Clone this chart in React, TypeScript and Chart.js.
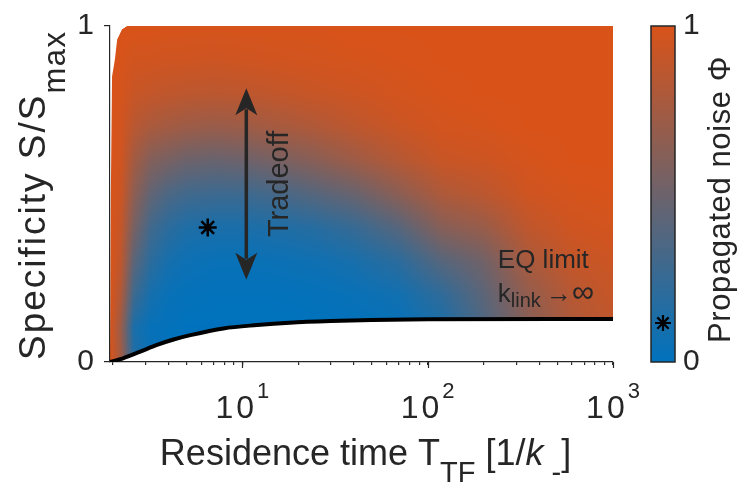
import React, { useEffect, useRef } from 'react';
import { Chart, registerables } from 'chart.js';

Chart.register(...registerables);

const FONT = '"Liberation Sans", Arial, Helvetica, sans-serif';
const TEXT = '#262626';

// ---- axes ----
const xMin = 1.93;
const xMax = 1000;
const xTickValues = [2, 3, 4, 5, 6, 7, 8, 9, 10, 20, 30, 40, 50, 60, 70, 80, 90, 100, 200, 300, 400, 500, 600, 700, 800, 900, 1000];
const xMajorTicks = [10, 100, 1000];
const xMajorExponents = ['1', '2', '3'];
const yTickValues = [0, 1];
const colorbarTickValues = [0, 1];

// ---- EQ-limit boundary (black curve) ----
const boundaryX = [1.93, 2.27, 2.81, 3.46, 4.25, 5.24, 7.9, 12, 18, 30, 50, 100, 1000];
const boundaryY = [0, 0.011, 0.031, 0.051, 0.067, 0.08, 0.1, 0.11, 0.117, 0.122, 0.125, 0.127, 0.128];

// ---- left edge of the feasible region ----
const edgeY = [0, 0.5, 0.85, 0.9, 0.96, 0.99, 1.0];
const edgeX = [1.93, 1.95, 1.98, 2.05, 2.11, 2.24, 2.39];

// ---- propagated noise Phi on a grid (columns = phiX, rows = phiY) ----
const phiX = [1.93, 2.2, 2.6, 3.2, 4, 5, 7, 10, 15, 25, 40, 70, 120, 200, 350, 600, 1000];
const phiY = [0, 0.1, 0.2, 0.3, 0.4, 0.5, 0.6, 0.7, 0.8, 0.9, 1.0];
const phiGrid = [
  [1, 1, 1, 1, 1, 1, 1, 1, 1, 1, 1],
  [0.75, 0.72, 0.82, 0.88, 0.91, 0.94, 0.96, 0.97, 0.98, 0.99, 1],
  [0.15, 0.12, 0.28, 0.42, 0.55, 0.65, 0.75, 0.85, 0.92, 0.96, 1],
  [0.04, 0.03, 0.1, 0.2, 0.3, 0.45, 0.6, 0.78, 0.9, 0.96, 1],
  [0.01, 0.01, 0.04, 0.1, 0.2, 0.35, 0.55, 0.75, 0.88, 0.95, 0.99],
  [0, 0, 0.02, 0.06, 0.14, 0.3, 0.5, 0.72, 0.87, 0.95, 0.99],
  [0, 0, 0.01, 0.04, 0.12, 0.28, 0.48, 0.7, 0.86, 0.94, 0.99],
  [0, 0, 0.01, 0.04, 0.12, 0.28, 0.5, 0.72, 0.87, 0.95, 0.99],
  [0, 0, 0.01, 0.05, 0.14, 0.32, 0.55, 0.76, 0.89, 0.96, 0.99],
  [0, 0, 0.02, 0.07, 0.18, 0.4, 0.63, 0.81, 0.92, 0.97, 0.99],
  [0, 0.01, 0.04, 0.11, 0.25, 0.48, 0.72, 0.87, 0.94, 0.98, 1],
  [0.02, 0.03, 0.08, 0.2, 0.4, 0.64, 0.83, 0.93, 0.97, 0.99, 1],
  [0.1, 0.12, 0.22, 0.4, 0.62, 0.8, 0.92, 0.97, 0.99, 1, 1],
  [0.33, 0.35, 0.42, 0.52, 0.7, 0.86, 0.94, 0.98, 1, 1, 1],
  [0.6, 0.62, 0.68, 0.78, 0.88, 0.95, 0.98, 1, 1, 1, 1],
  [0.78, 0.8, 0.84, 0.9, 0.95, 0.98, 1, 1, 1, 1, 1],
  [0.86, 0.88, 0.91, 0.94, 0.97, 0.99, 1, 1, 1, 1, 1],
];

// ---- marked operating point ----
const starX = [6.5];
const starY = [0.4];
const starPhi = 0.116;

// ---- tradeoff arrow ----
const tradeoffX = 10.5;
const tradeoffY = [0.245, 0.815];

// colormap end points (Phi = 0 -> blue, Phi = 1 -> orange)
const colorLow = [0, 114, 189];
const colorHigh = [217, 83, 25];

const logPhiX = phiX.map((v) => Math.log10(v));
const logBoundaryX = boundaryX.map((v) => Math.log10(v));

function interp1(xs: number[], ys: number[], v: number): number {
  const n = xs.length;
  if (v <= xs[0]) return ys[0];
  if (v >= xs[n - 1]) return ys[n - 1];
  for (let i = 0; i < n - 1; i++) {
    if (v <= xs[i + 1]) {
      const t = (v - xs[i]) / (xs[i + 1] - xs[i]);
      return ys[i] + t * (ys[i + 1] - ys[i]);
    }
  }
  return ys[n - 1];
}

function seg(xs: number[], v: number): [number, number] {
  const n = xs.length;
  if (v <= xs[0]) return [0, 0];
  if (v >= xs[n - 1]) return [n - 2, 1];
  for (let i = 0; i < n - 1; i++) {
    if (v <= xs[i + 1]) return [i, (v - xs[i]) / (xs[i + 1] - xs[i])];
  }
  return [n - 2, 1];
}

function phiAt(lx: number, yv: number): number {
  const [i, tx] = seg(logPhiX, lx);
  const [j, ty] = seg(phiY, yv);
  const v00 = phiGrid[i][j];
  const v10 = phiGrid[i + 1][j];
  const v01 = phiGrid[i][j + 1];
  const v11 = phiGrid[i + 1][j + 1];
  const a = v00 + (v10 - v00) * tx;
  const b = v01 + (v11 - v01) * tx;
  return a + (b - a) * ty;
}

function cmap(p: number): number[] {
  const t = Math.max(0, Math.min(1, p));
  return [0, 1, 2].map((k) => colorLow[k] + (colorHigh[k] - colorLow[k]) * t);
}

function drawAsterisk(ctx: CanvasRenderingContext2D, x: number, y: number, r: number, lw: number) {
  ctx.save();
  ctx.strokeStyle = '#000';
  ctx.lineWidth = lw;
  ctx.beginPath();
  for (let k = 0; k < 4; k++) {
    const a = (k * Math.PI) / 4;
    ctx.moveTo(x - r * Math.cos(a), y - r * Math.sin(a));
    ctx.lineTo(x + r * Math.cos(a), y + r * Math.sin(a));
  }
  ctx.stroke();
  ctx.restore();
}

type Run = { t: string; s: number; dy?: number; italic?: boolean; ls?: number };

function setRunFont(ctx: CanvasRenderingContext2D, r: Run) {
  ctx.font = `${r.italic ? 'italic ' : ''}${r.s}px ${FONT}`;
  (ctx as any).letterSpacing = `${r.ls || 0}px`;
}

function runsWidth(ctx: CanvasRenderingContext2D, runs: Run[]) {
  let w = 0;
  for (const r of runs) {
    setRunFont(ctx, r);
    w += ctx.measureText(r.t).width;
  }
  (ctx as any).letterSpacing = '0px';
  return w;
}

function drawRuns(ctx: CanvasRenderingContext2D, runs: Run[], x0: number, baseline: number) {
  let x = x0;
  ctx.textAlign = 'left';
  ctx.textBaseline = 'alphabetic';
  for (const r of runs) {
    setRunFont(ctx, r);
    ctx.fillText(r.t, x, baseline + (r.dy || 0));
    x += ctx.measureText(r.t).width;
  }
  (ctx as any).letterSpacing = '0px';
}

const heatPlugin = {
  id: 'heatmap',
  beforeDraw(chart: any) {
    const { ctx, chartArea: ca, scales } = chart;
    const xs = scales.x;
    const ys = scales.y;
    const w = Math.round(ca.right - ca.left);
    const h = Math.round(ca.bottom - ca.top);
    const off = document.createElement('canvas');
    off.width = w;
    off.height = h;
    const octx = off.getContext('2d')!;
    const img = octx.createImageData(w, h);
    for (let i = 0; i < w; i++) {
      const px = ca.left + i + 0.5;
      const xv = xs.getValueForPixel(px);
      const lx = Math.log10(xv);
      const lb = interp1(logBoundaryX, boundaryY, lx);
      const lbPix = ys.getPixelForValue(lb);
      for (let j = 0; j < h; j++) {
        const py = ca.top + j + 0.5;
        const c1 = Math.max(0, Math.min(1, lbPix - py + 0.5));
        if (c1 <= 0) continue;
        const yv = ys.getValueForPixel(py);
        const xe = interp1(edgeY, edgeX, yv);
        const xePix = xs.getPixelForValue(xe);
        const c2 = Math.max(0, Math.min(1, px - xePix + 0.5));
        if (c2 <= 0) continue;
        const col = cmap(phiAt(lx, yv));
        const o = (j * w + i) * 4;
        img.data[o] = col[0];
        img.data[o + 1] = col[1];
        img.data[o + 2] = col[2];
        img.data[o + 3] = Math.round(255 * Math.min(c1, c2));
      }
    }
    octx.putImageData(img, 0, 0);
    ctx.drawImage(off, ca.left, ca.top);
  },
};

const decorPlugin = {
  id: 'decor',
  afterDraw(chart: any) {
    const { ctx, chartArea: ca, scales } = chart;
    const xs = scales.x;
    const ys = scales.y;
    const cb = scales.cb;
    ctx.save();
    ctx.fillStyle = TEXT;
    ctx.strokeStyle = TEXT;

    // major tick extension
    ctx.lineWidth = 1.2;
    xMajorTicks.forEach((v) => {
      const px = Math.round(xs.getPixelForValue(v)) + 0.5;
      ctx.beginPath();
      ctx.moveTo(px, ca.bottom);
      ctx.lineTo(px, ca.bottom + 6);
      ctx.stroke();
    });

    // x tick labels 10^n
    xMajorTicks.forEach((v, k) => {
      const px = xs.getPixelForValue(v);
      const runs: Run[] = [
        { t: '10', s: 32, ls: 3 },
        { t: xMajorExponents[k], s: 22, dy: -20 },
      ];
      const w = runsWidth(ctx, runs);
      drawRuns(ctx, runs, px - w / 2, ca.bottom + 56);
    });

    // x title
    const xRuns: Run[] = [
      { t: 'Residence time T', s: 36 },
      { t: 'TF', s: 29, dy: 17 },
      { t: ' [1/', s: 36 },
      { t: 'k', s: 36, italic: true },
      { t: ' -', s: 29, dy: 17 },
      { t: ']', s: 36 },
    ];
    const xw = runsWidth(ctx, xRuns);
    drawRuns(ctx, xRuns, (ca.left + ca.right) / 2 + 4 - xw / 2, ca.bottom + 103);

    // y title (rotated)
    ctx.save();
    ctx.translate(ca.left - 65, ca.bottom - 2);
    ctx.rotate(-Math.PI / 2);
    drawRuns(ctx, [
      { t: 'Specificity S/S', s: 37, ls: 2 },
      { t: 'max', s: 31, dy: 20, ls: 1.5 },
    ], 0, 0);
    ctx.restore();

    // colorbar
    const cbL = cb.left + 38;
    const cbW = 24;
    const cbTop = cb.getPixelForValue(1);
    const cbBot = cb.getPixelForValue(0);
    const g = ctx.createLinearGradient(0, cbBot, 0, cbTop);
    g.addColorStop(0, `rgb(${colorLow.join(',')})`);
    g.addColorStop(1, `rgb(${colorHigh.join(',')})`);
    ctx.fillStyle = g;
    ctx.fillRect(cbL, cbTop, cbW, cbBot - cbTop);
    ctx.lineWidth = 1.5;
    ctx.strokeStyle = TEXT;
    ctx.strokeRect(cbL, cbTop, cbW, cbBot - cbTop);
    drawAsterisk(ctx, cbL + cbW / 2, cb.getPixelForValue(starPhi), 8, 2.2);

    // colorbar title
    ctx.fillStyle = TEXT;
    ctx.save();
    ctx.translate(cb.left + 117, cbBot - 19);
    ctx.rotate(-Math.PI / 2);
    drawRuns(ctx, [
      { t: 'Propagated noise ', s: 31, ls: 0.6 },
      { t: 'Φ', s: 31 },
    ], 0, 0);
    ctx.restore();

    // tradeoff double arrow
    const ax = xs.getPixelForValue(tradeoffX);
    const yTopTip = ys.getPixelForValue(tradeoffY[1]);
    const yBotTip = ys.getPixelForValue(tradeoffY[0]);
    const headL = 27;
    const headW = 11;
    ctx.fillStyle = TEXT;
    ctx.strokeStyle = TEXT;
    ctx.lineWidth = 3.5;
    ctx.beginPath();
    ctx.moveTo(ax, yTopTip + headL - 6);
    ctx.lineTo(ax, yBotTip - headL + 6);
    ctx.stroke();
    ctx.beginPath();
    ctx.moveTo(ax, yTopTip);
    ctx.lineTo(ax + headW, yTopTip + headL);
    ctx.lineTo(ax, yTopTip + headL - 7);
    ctx.lineTo(ax - headW, yTopTip + headL);
    ctx.closePath();
    ctx.fill();
    ctx.beginPath();
    ctx.moveTo(ax, yBotTip);
    ctx.lineTo(ax + headW, yBotTip - headL);
    ctx.lineTo(ax, yBotTip - headL + 7);
    ctx.lineTo(ax - headW, yBotTip - headL);
    ctx.closePath();
    ctx.fill();

    // Tradeoff text
    ctx.save();
    ctx.translate(ax + 42, (yTopTip + yBotTip) / 2);
    ctx.rotate(-Math.PI / 2);
    ctx.font = `29px ${FONT}`;
    ctx.textAlign = 'center';
    ctx.textBaseline = 'alphabetic';
    ctx.fillText('Tradeoff', 0, 0);
    ctx.restore();

    // EQ limit label
    const ex = xs.getPixelForValue(239);
    const ey1 = ys.getPixelForValue(0.28);
    const ey2 = ys.getPixelForValue(0.179);
    drawRuns(ctx, [{ t: 'EQ limit', s: 26 }], ex, ey1);
    drawRuns(ctx, [
      { t: 'k', s: 26 },
      { t: 'link', s: 20, dy: 5 },
      { t: '\u2009→', s: 26 },
      { t: '∞', s: 31 },
    ], ex, ey2);

    ctx.restore();
  },
};

export default function App() {
  const ref = useRef<HTMLCanvasElement | null>(null);
  useEffect(() => {
    if (!ref.current) return;
    const boundaryData = boundaryX.map((x, i) => ({ x, y: boundaryY[i] }));
    const starData = starX.map((x, i) => ({ x, y: starY[i] }));
    const noPad = (s: any) => {
      s.paddingTop = 0;
      s.paddingBottom = 0;
    };
    const chart = new Chart(ref.current, {
      type: 'scatter',
      data: {
        datasets: [
          {
            label: 'EQ limit',
            data: boundaryData,
            showLine: true,
            borderColor: '#000',
            borderWidth: 4,
            pointRadius: 0,
            cubicInterpolationMode: 'monotone',
            xAxisID: 'x',
            yAxisID: 'y',
          } as any,
          {
            label: 'operating point',
            data: starData,
            pointStyle: 'star',
            pointRadius: 9,
            borderWidth: 2.5,
            borderColor: '#000',
            backgroundColor: '#000',
            xAxisID: 'x',
            yAxisID: 'y',
          } as any,
        ],
      },
      options: {
        animation: false,
        responsive: true,
        maintainAspectRatio: false,
        layout: { padding: { top: 26, left: 0, right: 0, bottom: 0 } },
        plugins: { legend: { display: false }, tooltip: { enabled: false } },
        scales: {
          x: {
            type: 'logarithmic',
            min: xMin,
            max: xMax,
            position: 'bottom',
            afterBuildTicks: (s: any) => {
              s.ticks = xTickValues.map((v) => ({ value: v, major: xMajorTicks.includes(v) }));
            },
            afterFit: (s: any) => {
              s.height = 122;
              s.paddingLeft = 0;
              s.paddingRight = 0;
            },
            ticks: { display: false, autoSkip: false },
            grid: { display: true, drawOnChartArea: false, drawTicks: true, tickLength: 3, color: TEXT, lineWidth: 1.2 },
            border: { display: true, color: TEXT, width: 1.2 },
          },
          y: {
            type: 'linear',
            min: 0,
            max: 1,
            position: 'left',
            afterBuildTicks: (s: any) => {
              s.ticks = yTickValues.map((v) => ({ value: v }));
            },
            afterFit: (s: any) => {
              s.width = 110;
              noPad(s);
            },
            ticks: { font: { family: FONT, size: 30 }, color: TEXT, padding: 10, callback: (v: any) => String(v) },
            grid: { display: true, drawOnChartArea: false, drawTicks: true, tickLength: 6, color: TEXT, lineWidth: 1.2 },
            border: { display: true, color: TEXT, width: 1.2 },
          },
          cb: {
            type: 'linear',
            min: 0,
            max: 1,
            position: 'right',
            afterBuildTicks: (s: any) => {
              s.ticks = colorbarTickValues.map((v) => ({ value: v }));
            },
            afterFit: (s: any) => {
              s.width = 136;
              noPad(s);
            },
            ticks: { font: { family: FONT, size: 30 }, color: TEXT, padding: 70, callback: (v: any) => String(v) },
            grid: { display: false, drawTicks: false },
            border: { display: false },
          },
        },
      } as any,
      plugins: [heatPlugin, decorPlugin],
    });
    return () => chart.destroy();
  }, []);
  return (
    <div style={{ position: 'fixed', left: 0, top: 0, width: '749px', height: '484px', background: '#fff' }}>
      <canvas ref={ref} />
    </div>
  );
}
